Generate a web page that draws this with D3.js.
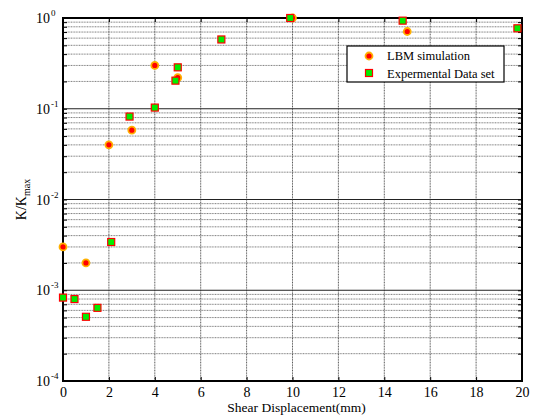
<!DOCTYPE html>
<html>
<head>
<meta charset="utf-8">
<script src="https://cdn.jsdelivr.net/npm/d3@7"></script>
<style>
  body { margin: 0; background: #fff; }
  text { font-family: "Liberation Serif", "Times New Roman", serif; }
</style>
</head>
<body>
<div id="chart"></div>
<script>
// LBM simulation
const lbmX = [0, 1, 2, 3, 4, 5, 10, 15];
const lbmY = [3.0e-3, 2.0e-3, 0.04, 0.058, 0.30, 0.22, 1.0, 0.71];
// Experimental data set
const expX = [0, 0.5, 1, 1.5, 2.1, 2.9, 4, 4.9, 5, 6.9, 9.9, 14.8, 19.8];
const expY = [8.3e-4, 8.0e-4, 5.1e-4, 6.4e-4, 3.4e-3, 0.082, 0.103, 0.204, 0.286, 0.58, 1.0, 0.935, 0.77];
const xTicks = [0, 2, 4, 6, 8, 10, 12, 14, 16, 18, 20];
const yDecades = [-4, -3, -2, -1, 0];
const legendLabels = ['LBM simulation', 'Expermental Data set'];

const W = 535, H = 415;
const margin = {top: 18, right: 13, bottom: 34, left: 63};
const width = W - margin.left - margin.right;
const height = H - margin.top - margin.bottom;

const svg = d3.select('#chart').append('svg')
    .attr('width', W)
    .attr('height', H);
const g = svg.append('g')
    .attr('transform', `translate(${margin.left},${margin.top})`);

const x = d3.scaleLinear().domain([0, 20]).range([0, width]);
const y = d3.scaleLog().domain([1e-4, 1]).range([height, 0]);

// grid
const minor = [];
for (let e = -4; e < 0; e++) {
  for (let m = 2; m < 10; m++) minor.push(m * Math.pow(10, e));
}
const decades = yDecades.map(e => Math.pow(10, e));

g.append('g').selectAll('line')
  .data(minor)
  .enter()
  .append('line')
    .attr('x1', 0).attr('x2', width)
    .attr('y1', d => y(d)).attr('y2', d => y(d))
    .attr('stroke', '#555')
    .attr('stroke-dasharray', '1,0.6')
    .attr('stroke-opacity', 0.75);
g.append('g').selectAll('line')
  .data(decades)
  .enter()
  .append('line')
    .attr('x1', 0).attr('x2', width)
    .attr('y1', d => y(d)).attr('y2', d => y(d))
    .attr('stroke', '#222')
    .attr('stroke-width', 1);
g.append('g').selectAll('line')
  .data(xTicks)
  .enter()
  .append('line')
    .attr('x1', d => x(d)).attr('x2', d => x(d))
    .attr('y1', 0).attr('y2', height)
    .attr('stroke', '#333')
    .attr('stroke-dasharray', '1,0.6')
    .attr('stroke-opacity', 0.8);

// axes
const xb = g.append('g')
    .attr('transform', `translate(0,${height})`)
    .call(d3.axisBottom(x).tickValues(xTicks).tickSize(-4).tickPadding(6));
const xt = g.append('g')
    .call(d3.axisTop(x).tickValues(xTicks).tickSize(-4).tickFormat(''));
const yl = g.append('g')
    .call(d3.axisLeft(y).tickValues(minor.concat(decades)).tickSize(-4).tickFormat(''));
const yr = g.append('g')
    .attr('transform', `translate(${width},0)`)
    .call(d3.axisRight(y).tickValues(minor.concat(decades)).tickSize(-4).tickFormat(''));
[xb, xt, yl, yr].forEach(a => {
  a.select('.domain').remove();
  a.selectAll('.tick line').attr('stroke', '#000');
});
xb.selectAll('.tick text')
  .style('font-family', '"Liberation Serif", serif')
  .style('font-size', '14px')
  .attr('fill', '#000');

// y tick labels 10^n
const ylab = g.append('g');
yDecades.forEach(e => {
  ylab.append('text')
    .attr('x', -13)
    .attr('y', y(Math.pow(10, e)) + 5)
    .attr('text-anchor', 'end')
    .style('font-size', '14px')
    .text('10');
  ylab.append('text')
    .attr('x', -12)
    .attr('y', y(Math.pow(10, e)) - 2)
    .style('font-size', '9px')
    .text(e === 0 ? '0' : '-' + Math.abs(e));
});

// frame
g.append('rect')
  .attr('width', width).attr('height', height)
  .attr('fill', 'none')
  .attr('stroke', '#000')
  .attr('stroke-width', 2);

// labels
svg.append('text')
  .attr('x', margin.left + width / 2 + 4)
  .attr('y', H - 3)
  .attr('text-anchor', 'middle')
  .style('font-size', '13.5px')
  .text('Shear Displacement(mm)');
const yt = svg.append('text')
  .attr('transform', `translate(26,${margin.top + height / 2}) rotate(-90)`)
  .attr('text-anchor', 'middle')
  .style('font-size', '14px');
yt.append('tspan').text('K/K');
yt.append('tspan').attr('dy', 4).style('font-size', '10px').text('max');

// markers
const drawCircle = (sel) => sel
  .attr('r', 3.5)
  .attr('fill', '#ff0000')
  .attr('stroke', '#ffb000')
  .attr('stroke-width', 1.8);
const drawSquare = (sel) => sel
  .attr('width', 7).attr('height', 7)
  .attr('fill', '#00ee00')
  .attr('stroke', '#ff0000')
  .attr('stroke-width', 1.2);

g.selectAll('.lbm')
  .data(lbmX.map((d, i) => [d, lbmY[i]]))
  .enter()
  .append('circle')
    .attr('class', 'lbm')
    .attr('cx', d => x(d[0]))
    .attr('cy', d => y(d[1]))
    .call(drawCircle);

g.selectAll('.exp')
  .data(expX.map((d, i) => [d, expY[i]]))
  .enter()
  .append('rect')
    .attr('class', 'exp')
    .attr('x', d => x(d[0]) - 3.5)
    .attr('y', d => y(d[1]) - 3.5)
    .call(drawSquare);

// legend
const lg = svg.append('g').attr('transform', 'translate(347,46)');
lg.append('rect')
  .attr('width', 157).attr('height', 36)
  .attr('fill', '#fff')
  .attr('stroke', '#000')
  .attr('stroke-width', 1.2);
lg.append('circle').attr('cx', 22).attr('cy', 10).call(drawCircle);
lg.append('rect').attr('x', 18.5).attr('y', 23.5).call(drawSquare);
legendLabels.forEach((l, i) => {
  lg.append('text')
    .attr('x', 40)
    .attr('y', 14 + i * 18)
    .style('font-size', '12.5px')
    .text(l);
});
</script>
</body>
</html>
